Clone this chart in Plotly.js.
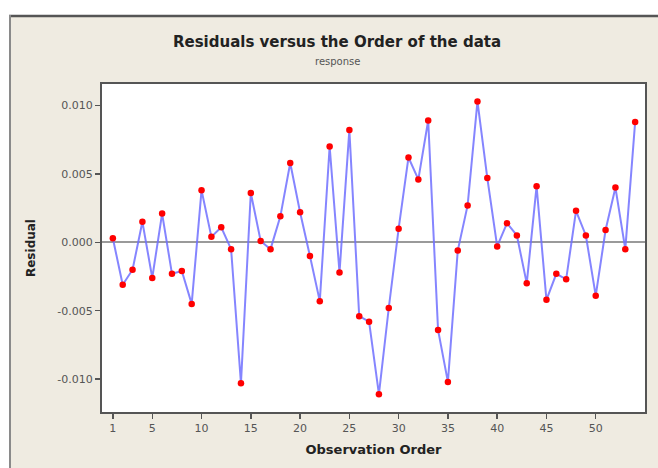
<!DOCTYPE html>
<html>
<head>
<meta charset="utf-8">
<script src="https://cdn.plot.ly/plotly-3.0.1.min.js"></script>
<style>
  html, body { margin: 0; padding: 0; background: #ffffff; }
  #chart { width: 658px; height: 468px; }
</style>
</head>
<body>
<div id="chart"></div>
<script>
// Observation order (1..54) and the residual for each observation
const observation = [
  1, 2, 3, 4, 5, 6, 7, 8, 9, 10,
  11, 12, 13, 14, 15, 16, 17, 18, 19, 20,
  21, 22, 23, 24, 25, 26, 27, 28, 29, 30,
  31, 32, 33, 34, 35, 36, 37, 38, 39, 40,
  41, 42, 43, 44, 45, 46, 47, 48, 49, 50,
  51, 52, 53, 54
];
const residual = [
  0.0003, -0.0031, -0.0020, 0.0015, -0.0026, 0.0021, -0.0023, -0.0021, -0.0045, 0.0038,
  0.0004, 0.0011, -0.0005, -0.0103, 0.0036, 0.0001, -0.0005, 0.0019, 0.0058, 0.0022,
  -0.0010, -0.0043, 0.0070, -0.0022, 0.0082, -0.0054, -0.0058, -0.0111, -0.0048, 0.0010,
  0.0062, 0.0046, 0.0089, -0.0064, -0.0102, -0.0006, 0.0027, 0.0103, 0.0047, -0.0003,
  0.0014, 0.0005, -0.0030, 0.0041, -0.0042, -0.0023, -0.0027, 0.0023, 0.0005, -0.0039,
  0.0009, 0.0040, -0.0005, 0.0088
];

// Axis tick labels
const xTickVals = [1, 5, 10, 15, 20, 25, 30, 35, 40, 45, 50];
const xTickText = ['1', '5', '10', '15', '20', '25', '30', '35', '40', '45', '50'];
const yTickVals = [-0.010, -0.005, 0, 0.005, 0.010];
const yTickText = ['-0.010', '-0.005', '0.000', '0.005', '0.010'];

const frameBg = '#efebe1';
const font = 'DejaVu Sans, Verdana, sans-serif';

const trace = {
  x: observation,
  y: residual,
  type: 'scatter',
  mode: 'lines+markers',
  line: { color: 'rgba(112,112,255,0.85)', width: 2 },
  marker: { color: '#ff0000', size: 6.5 },
  hoverinfo: 'x+y'
};

const layout = {
  width: 658,
  height: 468,
  margin: { l: 102, r: 13, t: 84, b: 56 },
  paper_bgcolor: frameBg,
  plot_bgcolor: '#ffffff',
  showlegend: false,
  font: { family: font, color: '#444', size: 11 },
  title: {
    text: 'Residuals versus the Order of the data',
    font: { family: font, size: 15, color: '#222', weight: 'bold' },
    xref: 'container', x: 337 / 658, xanchor: 'center',
    yref: 'container', y: 1 - 42 / 468, yanchor: 'middle'
  },
  annotations: [{
    text: 'response',
    xref: 'paper', yref: 'paper',
    x: (337 - 102) / 543, y: (412 - 62) / 328,
    xanchor: 'center', yanchor: 'middle',
    showarrow: false,
    font: { family: font, size: 10, color: '#555' }
  }],
  xaxis: {
    range: [-0.1, 55],
    tickvals: xTickVals,
    ticktext: xTickText,
    ticks: 'outside', ticklen: 5, tickwidth: 1.5, tickcolor: '#555',
    tickfont: { family: font, size: 11, color: '#555' },
    showgrid: false, zeroline: false,
    showline: true, mirror: true, linecolor: '#555', linewidth: 2,
    title: {
      text: 'Observation Order',
      font: { family: font, size: 13, color: '#222', weight: 'bold' },
      standoff: 11
    }
  },
  yaxis: {
    range: [-0.0124, 0.01157],
    tickvals: yTickVals,
    ticktext: yTickText,
    ticks: 'outside', ticklen: 5, tickwidth: 1.5, tickcolor: '#555',
    tickfont: { family: font, size: 11, color: '#555' },
    showgrid: false,
    zeroline: true, zerolinecolor: '#9a9a9a', zerolinewidth: 2,
    showline: true, mirror: true, linecolor: '#555', linewidth: 2,
    title: {
      text: 'Residual',
      font: { family: font, size: 12, color: '#222', weight: 'bold' },
      standoff: 19
    }
  },
  shapes: [
    // white strips outside the window frame
    { type: 'rect', xref: 'paper', yref: 'paper', layer: 'above',
      x0: -102 / 543, x1: 556 / 543, y0: (412 - 15) / 328, y1: 412 / 328,
      fillcolor: '#ffffff', line: { width: 0 } },
    { type: 'rect', xref: 'paper', yref: 'paper', layer: 'above',
      x0: -102 / 543, x1: (9 - 102) / 543, y0: -56 / 328, y1: 412 / 328,
      fillcolor: '#ffffff', line: { width: 0 } },
    // window frame edges
    { type: 'line', xref: 'paper', yref: 'paper', layer: 'above',
      x0: (9 - 102) / 543, x1: 556 / 543, y0: (412 - 16) / 328, y1: (412 - 16) / 328,
      line: { color: '#555555', width: 2.5 } },
    { type: 'line', xref: 'paper', yref: 'paper', layer: 'above',
      x0: (10 - 102) / 543, x1: (10 - 102) / 543, y0: -56 / 328, y1: (412 - 15) / 328,
      line: { color: '#8a8a8a', width: 2 } }
  ]
};

Plotly.newPlot('chart', [trace], layout, { displayModeBar: false, staticPlot: true });
</script>
</body>
</html>
